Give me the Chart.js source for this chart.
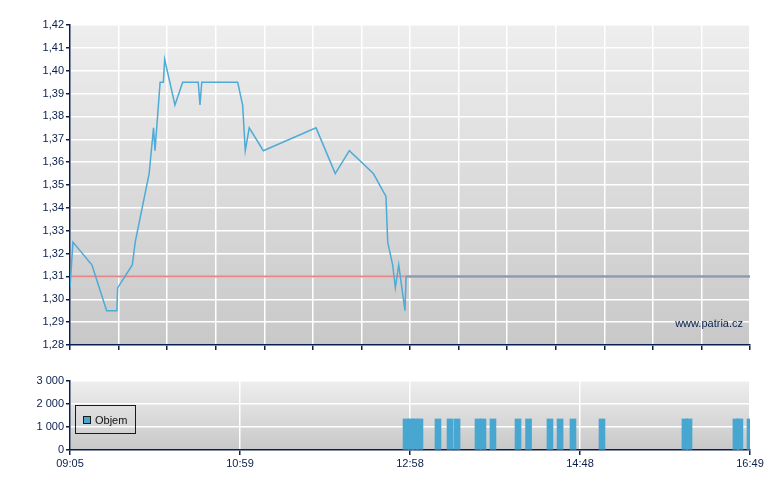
<!DOCTYPE html>
<html>
<head>
<meta charset="utf-8">
<script src="https://cdn.jsdelivr.net/npm/chart.js@4/dist/chart.umd.min.js"></script>
<style>
  body { margin: 0; background: #fff; }
  #wrap { position: relative; width: 780px; height: 490px; font-family: "Liberation Sans", Arial, sans-serif; color: #0b1f4e; }
  #priceCanvas { position: absolute; left: 0; top: 0; }
  #volCanvas { position: absolute; left: 0; top: 360px; }
  #legend { position: absolute; left: 75px; top: 405px; width: 59px; height: 27px; border: 1px solid #1a1a1a; font-size: 11px; }
  #legend .box { position: absolute; left: 7px; top: 10px; width: 6px; height: 6px; border: 1px solid #1a1a1a; background: #48a7d0; }
  #legend .txt { position: absolute; left: 19px; top: 8px; line-height: 12px; color: #111; }
  #mark { position: absolute; right: 37px; top: 317px; font-size: 11px; line-height: 12px; color: #0b1f4e; }
</style>
</head>
<body>
<div id="wrap">
  <canvas id="priceCanvas" width="780" height="360"></canvas>
  <canvas id="volCanvas" width="780" height="130"></canvas>
  <div id="legend"><div class="box"></div><div class="txt">Objem</div></div>
  <div id="mark">www.patria.cz</div>
</div>
<script>
// x = minutes on the chart axis, counted from 09:05
const priceTimes = [0, 2, 15, 25, 32, 32.5, 42.5, 44.5, 54, 57, 58, 61.5, 63.7, 64.6, 71.6, 76.9, 87.5, 88.7, 89.9, 114.4,
  117.8, 119.6, 122.3, 131.9, 167.9, 181, 190.6, 207, 215.6, 216.8, 220.2, 222, 224.3, 228.6, 229.3, 464];
const prices = [1.305, 1.325, 1.315, 1.295, 1.295, 1.305, 1.315, 1.325, 1.355, 1.375, 1.365, 1.395, 1.395, 1.405, 1.385, 1.395, 1.395, 1.385, 1.395, 1.395,
  1.385, 1.365, 1.375, 1.365, 1.375, 1.355, 1.365, 1.355, 1.345, 1.325, 1.315, 1.305, 1.315, 1.295, 1.31, 1.31];

const prevClose = 1.31;

const volTimes = [229.3, 232.7, 235.4, 238.8, 251.1, 259.3, 264.1, 278.4, 281.8, 288.6, 305.7,
  312.9, 327.5, 334.4, 343.2, 363.0, 419.6, 422.4, 454.4, 457.1, 464];
const volumes = [1350, 1350, 1350, 1350, 1350, 1350, 1350, 1350, 1350, 1350, 1350,
  1350, 1350, 1350, 1350, 1350, 1350, 1350, 1350, 1350, 1350];

const xTickLabels = ["09:05", "10:59", "12:58", "14:48", "16:49"];
const xMax = 464;
const priceTicks = [1.28, 1.29, 1.30, 1.31, 1.32, 1.33, 1.34, 1.35, 1.36, 1.37, 1.38, 1.39, 1.40, 1.41, 1.42];
const volTicks = [0, 1000, 2000, 3000];

const NAVY = "#0b1f4e";
Chart.defaults.font.family = '"Liberation Sans", Arial, sans-serif';
Chart.defaults.font.size = 11;
Chart.defaults.color = NAVY;

const plotBackground = {
  id: "plotBackground",
  beforeDraw(chart) {
    const { ctx, chartArea: a } = chart;
    const g = ctx.createLinearGradient(0, a.top, 0, a.bottom);
    g.addColorStop(0, "#eeeeee");
    g.addColorStop(1, "#c8c8c8");
    ctx.save();
    ctx.fillStyle = g;
    ctx.fillRect(a.left, a.top, a.right - a.left, a.bottom - a.top);
    ctx.restore();
  }
};

const priceData = priceTimes.map((t, i) => ({ x: t, y: prices[i] }));

new Chart(document.getElementById("priceCanvas"), {
  type: "line",
  data: {
    datasets: [
      {
        data: priceData,
        borderColor: "#4eaad6",
        borderWidth: 1.5,
        pointRadius: 0,
        tension: 0,
        segment: {
          borderColor: ctx => ctx.p1DataIndex === priceData.length - 1 ? "#8a97ae" : undefined,
          borderWidth: ctx => ctx.p1DataIndex === priceData.length - 1 ? 2 : undefined
        }
      },
      {
        data: [{ x: 0, y: prevClose }, { x: xMax, y: prevClose }],
        borderColor: "#e8868a",
        borderWidth: 2,
        pointRadius: 0
      }
    ]
  },
  options: {
    responsive: false,
    animation: false,
    layout: { padding: { top: 25, right: 30, left: 0, bottom: 0 } },
    plugins: { legend: { display: false }, tooltip: { enabled: false } },
    scales: {
      x: {
        type: "linear",
        min: 0,
        max: xMax,
        afterBuildTicks: s => { s.ticks = Array.from({ length: 15 }, (_, i) => ({ value: i * xMax / 14 })); },
        afterFit: s => { s.height = 15; },
        ticks: { callback: () => "" },
        grid: { color: "#ffffff", lineWidth: 1.5, tickColor: NAVY, tickLength: 5 },
        border: { color: NAVY, width: 1.5 }
      },
      y: {
        min: 1.28,
        max: 1.42,
        afterBuildTicks: s => { s.ticks = priceTicks.map(v => ({ value: v })); },
        afterFit: s => { s.width = 70; },
        ticks: { padding: 2, callback: v => v.toFixed(2).replace(".", ",") },
        grid: { color: "#ffffff", lineWidth: 1.5, tickColor: NAVY, tickLength: 4 },
        border: { color: NAVY, width: 1.5 }
      }
    }
  },
  plugins: [plotBackground]
});

new Chart(document.getElementById("volCanvas"), {
  type: "bar",
  data: {
    datasets: [{
      label: "Objem",
      data: volTimes.map((t, i) => ({ x: t, y: volumes[i] })),
      backgroundColor: "#48a7d0",
      barThickness: 6
    }]
  },
  options: {
    responsive: false,
    animation: false,
    layout: { padding: { top: 21, right: 30, left: 0, bottom: 0 } },
    plugins: { legend: { display: false }, tooltip: { enabled: false } },
    scales: {
      x: {
        type: "linear",
        min: 0,
        max: xMax,
        offset: false,
        afterBuildTicks: s => { s.ticks = xTickLabels.map((_, i) => ({ value: i * xMax / (xTickLabels.length - 1) })); },
        afterFit: s => { s.height = 40; },
        ticks: { padding: 2, maxRotation: 0, callback: (v, i) => xTickLabels[i] },
        grid: { offset: false, color: "#ffffff", lineWidth: 1.5, tickColor: NAVY, tickLength: 5 },
        border: { color: NAVY, width: 1.5 }
      },
      y: {
        min: 0,
        max: 3000,
        afterBuildTicks: s => { s.ticks = volTicks.map(v => ({ value: v })); },
        afterFit: s => { s.width = 70; },
        ticks: { padding: 2, callback: v => String(v).replace(/\B(?=(\d{3})+$)/g, " ") },
        grid: { color: "#ffffff", lineWidth: 1.5, tickColor: NAVY, tickLength: 4 },
        border: { color: NAVY, width: 1.5 }
      }
    }
  },
  plugins: [plotBackground]
});
</script>
</body>
</html>
